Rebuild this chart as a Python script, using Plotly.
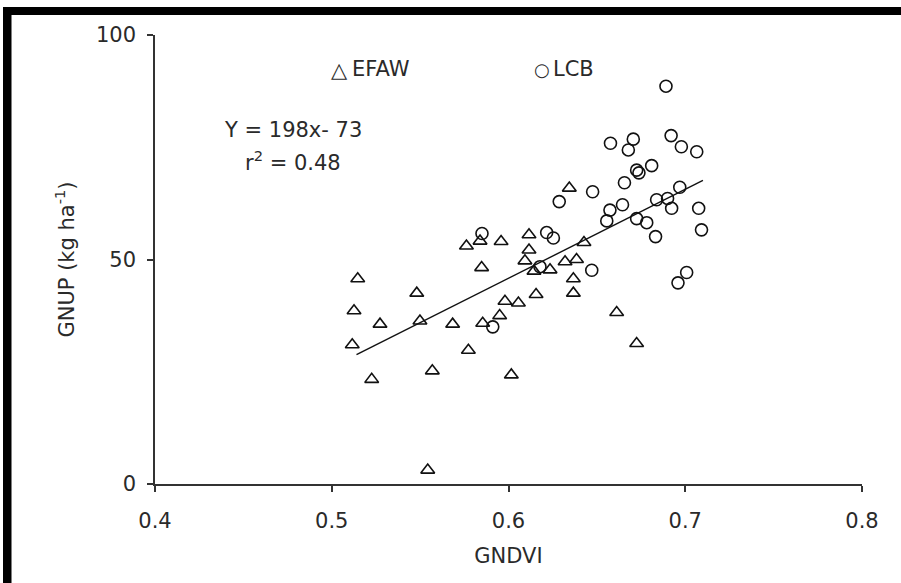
import plotly.graph_objects as go

# EFAW (triangles)
efaw_x = [0.5147, 0.5126, 0.5116, 0.5226, 0.5273, 0.5481, 0.5499, 0.5569, 0.5543, 0.5684,
          0.5773, 0.5762, 0.5848, 0.5839, 0.5958, 0.5854, 0.5980, 0.6056, 0.5950, 0.6016,
          0.6116, 0.6116, 0.6093, 0.6144, 0.6235, 0.6156, 0.6320, 0.6385, 0.6427, 0.6367,
          0.6367, 0.6344, 0.6612, 0.6725]
efaw_y = [45.7, 38.6, 31.0, 23.3, 35.6, 42.5, 36.3, 25.2, 3.1, 35.6,
          29.8, 53.0, 48.2, 54.1, 54.0, 35.8, 40.7, 40.3, 37.5, 24.3,
          55.5, 52.1, 49.7, 47.4, 47.7, 42.2, 49.5, 50.0, 53.8, 45.7,
          42.5, 65.9, 38.2, 31.3]

# LCB (circles)
lcb_x = [0.5850, 0.5911, 0.6178, 0.6216, 0.6254, 0.6471, 0.6287, 0.6476, 0.6574, 0.6645,
         0.6556, 0.6725, 0.6782, 0.6832, 0.7092, 0.7008, 0.6959, 0.6891, 0.6577, 0.6706,
         0.6678, 0.6920, 0.6978, 0.7065, 0.6725, 0.6738, 0.6810, 0.6656, 0.6838, 0.6900,
         0.6969, 0.6923, 0.7076]
lcb_y = [55.8, 35.0, 48.4, 56.0, 54.8, 47.6, 62.9, 65.1, 61.0, 62.2,
         58.6, 59.1, 58.2, 55.1, 56.6, 47.1, 44.8, 88.6, 75.9, 76.8,
         74.4, 77.6, 75.1, 74.0, 69.9, 69.3, 70.9, 67.1, 63.3, 63.6,
         66.1, 61.4, 61.4]

# Regression line endpoints (Y = 198x - 73)
fit_x = [0.514, 0.710]
fit_y = [28.8, 67.6]

x_ticks = [0.4, 0.5, 0.6, 0.7, 0.8]
x_tick_labels = ["0.4", "0.5", "0.6", "0.7", "0.8"]
y_ticks = [0, 50, 100]
y_tick_labels = ["0", "50", "100"]

FONT = "DejaVu Sans"
TXT = "#2a2a2a"

fig = go.Figure()
fig.add_trace(go.Scatter(x=fit_x, y=fit_y, mode="lines",
                         line=dict(color="#111", width=1.4), showlegend=False, name="fit"))
fig.add_trace(go.Scatter(x=efaw_x, y=efaw_y, mode="markers", name="EFAW", showlegend=False,
                         marker=dict(symbol="triangle-up-open", size=12,
                                     color="#111", line=dict(width=1.6, color="#111"))))
fig.add_trace(go.Scatter(x=lcb_x, y=lcb_y, mode="markers", name="LCB", showlegend=False,
                         marker=dict(symbol="circle-open", size=12,
                                     color="#111", line=dict(width=1.6, color="#111"))))

W, H = 901, 583
L, R, T, B = 155, 39, 35, 99
pw, ph = W - L - R, H - T - B

def px(xp):
    return (xp - L) / pw

def py(yp):
    return (H - B - yp) / ph

ann = []
ann.append(dict(x=px(339), y=py(70), xref="paper", yref="paper", text="△", showarrow=False,
                font=dict(family=FONT, size=21, color=TXT), xanchor="center", yanchor="middle"))
ann.append(dict(x=px(350), y=py(69.5), xref="paper", yref="paper", text="EFAW", showarrow=False,
                font=dict(family=FONT, size=21, color=TXT), xanchor="left", yanchor="middle"))
ann.append(dict(x=px(541.5), y=py(70), xref="paper", yref="paper", text="○", showarrow=False,
                font=dict(family=FONT, size=18, color=TXT), xanchor="center", yanchor="middle"))
ann.append(dict(x=px(551), y=py(69.5), xref="paper", yref="paper", text="LCB", showarrow=False,
                font=dict(family=FONT, size=21, color=TXT), xanchor="left", yanchor="middle"))
ann.append(dict(x=px(293), y=py(129.5), xref="paper", yref="paper", text="Y = 198x- 73",
                showarrow=False, font=dict(family=FONT, size=21, color=TXT),
                xanchor="center", yanchor="middle"))
ann.append(dict(x=px(293), y=py(161), xref="paper", yref="paper", text="r<sup>2</sup> = 0.48",
                showarrow=False, font=dict(family=FONT, size=21, color=TXT),
                xanchor="center", yanchor="middle"))

shapes = [
    dict(type="rect", xref="paper", yref="paper", x0=px(3), x1=px(905), y0=py(15), y1=py(7),
         fillcolor="black", line=dict(width=0), layer="above"),
    dict(type="rect", xref="paper", yref="paper", x0=px(3), x1=px(11.5), y0=py(590), y1=py(7),
         fillcolor="black", line=dict(width=0), layer="above"),
]

fig.update_layout(
    width=W, height=H, margin=dict(l=L, r=R, t=T, b=B, pad=0),
    paper_bgcolor="white", plot_bgcolor="white",
    font=dict(family=FONT, size=21, color=TXT),
    annotations=ann, shapes=shapes,
    xaxis=dict(range=[0.4, 0.8], tickvals=x_ticks, ticktext=x_tick_labels,
               showgrid=False, zeroline=False, showline=True, linecolor="#333", linewidth=1.5,
               ticks="outside", ticklen=6, tickwidth=1.5, tickcolor="#333",
               ticklabelstandoff=11,
               title=dict(text="GNDVI", standoff=16, font=dict(family=FONT, size=21, color=TXT))),
    yaxis=dict(range=[0, 100], tickvals=y_ticks, ticktext=y_tick_labels,
               showgrid=False, zeroline=False, showline=True, linecolor="#333", linewidth=1.5,
               ticks="outside", ticklen=6, tickwidth=1.5, tickcolor="#333",
               ticklabelstandoff=7,
               title=dict(text="GNUP (kg ha<sup>-1</sup>)", standoff=16,
                          font=dict(family=FONT, size=21, color=TXT))),
)

fig.write_html("out.html")
